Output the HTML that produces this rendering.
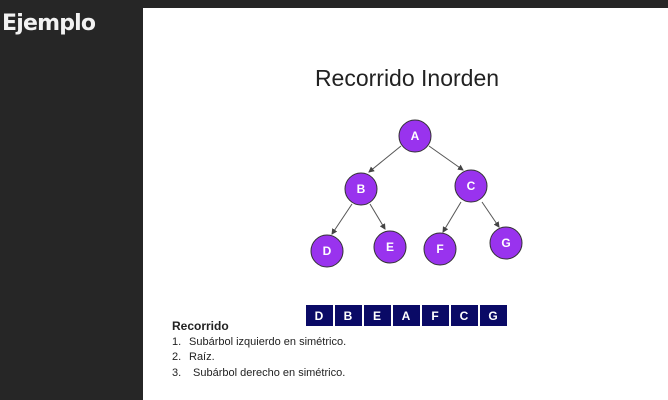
<!DOCTYPE html>
<html><head><style>
body{margin:0;width:668px;height:400px;background:#262626;position:relative;overflow:hidden;font-family:"Liberation Sans",sans-serif}
#h{position:absolute;left:2px;top:11px;color:#f2f2f2;font:bold 22px "DejaVu Sans","Liberation Sans",sans-serif;letter-spacing:-0.8px}
#p{position:absolute;left:143px;top:8px;width:525px;height:392px;background:#fff}
</style></head><body>
<div id="h">Ejemplo</div>
<div id="p"></div>
<svg width="668" height="400" style="position:absolute;left:0;top:0">
<defs><marker id="a" markerWidth="6" markerHeight="6" refX="5" refY="3" orient="auto"><path d="M0,0 L6,3 L0,6z" fill="#444"/></marker></defs>
<text x="407" y="86" text-anchor="middle" font-family="Liberation Sans" font-size="23" fill="#222">Recorrido Inorden</text>
<g stroke="#555" stroke-width="1" marker-end="url(#a)">
<line x1="401" y1="146" x2="369" y2="172"/>
<line x1="429" y1="146" x2="463" y2="170"/>
<line x1="352" y1="204" x2="332" y2="234"/>
<line x1="370" y1="204" x2="385" y2="229"/>
<line x1="461" y1="202" x2="443" y2="232"/>
<line x1="482" y1="202" x2="499" y2="227"/>
</g>
<g fill="#9933ee" stroke="#333" stroke-width="1">
<circle cx="415" cy="136" r="16"/><circle cx="361" cy="189" r="16"/><circle cx="471" cy="186" r="16"/>
<circle cx="327" cy="251" r="16"/><circle cx="390" cy="247" r="16"/><circle cx="440" cy="249" r="16"/><circle cx="506" cy="243" r="16"/>
</g>
<g fill="#fff" font-family="Liberation Sans" font-weight="bold" font-size="12" text-anchor="middle">
<text x="415" y="140">A</text><text x="361" y="193">B</text><text x="471" y="190">C</text>
<text x="327" y="255">D</text><text x="390" y="251">E</text><text x="440" y="253">F</text><text x="506" y="247">G</text>
</g>
<g fill="#0a0a66">
<rect x="306" y="305" width="27" height="21"/><rect x="335" y="305" width="27" height="21"/><rect x="364" y="305" width="27" height="21"/><rect x="393" y="305" width="27" height="21"/><rect x="422" y="305" width="27" height="21"/><rect x="451" y="305" width="27" height="21"/><rect x="480" y="305" width="27" height="21"/>
</g>
<g fill="#fff" font-family="Liberation Sans" font-weight="bold" font-size="12" text-anchor="middle">
<text x="319" y="320">D</text><text x="348" y="320">B</text><text x="377" y="320">E</text><text x="406" y="320">A</text><text x="435" y="320">F</text><text x="464" y="320">C</text><text x="493" y="320">G</text>
</g>
<g font-family="Liberation Sans" font-size="11" fill="#222">
<text x="172" y="330" font-weight="bold" font-size="12">Recorrido</text>
<text x="172" y="345">1.</text><text x="189" y="345">Subárbol izquierdo en simétrico.</text>
<text x="172" y="360">2.</text><text x="189" y="360">Raíz.</text>
<text x="172" y="376">3.</text><text x="193" y="376">Subárbol derecho en simétrico.</text>
</g>
</svg>
</body></html>
